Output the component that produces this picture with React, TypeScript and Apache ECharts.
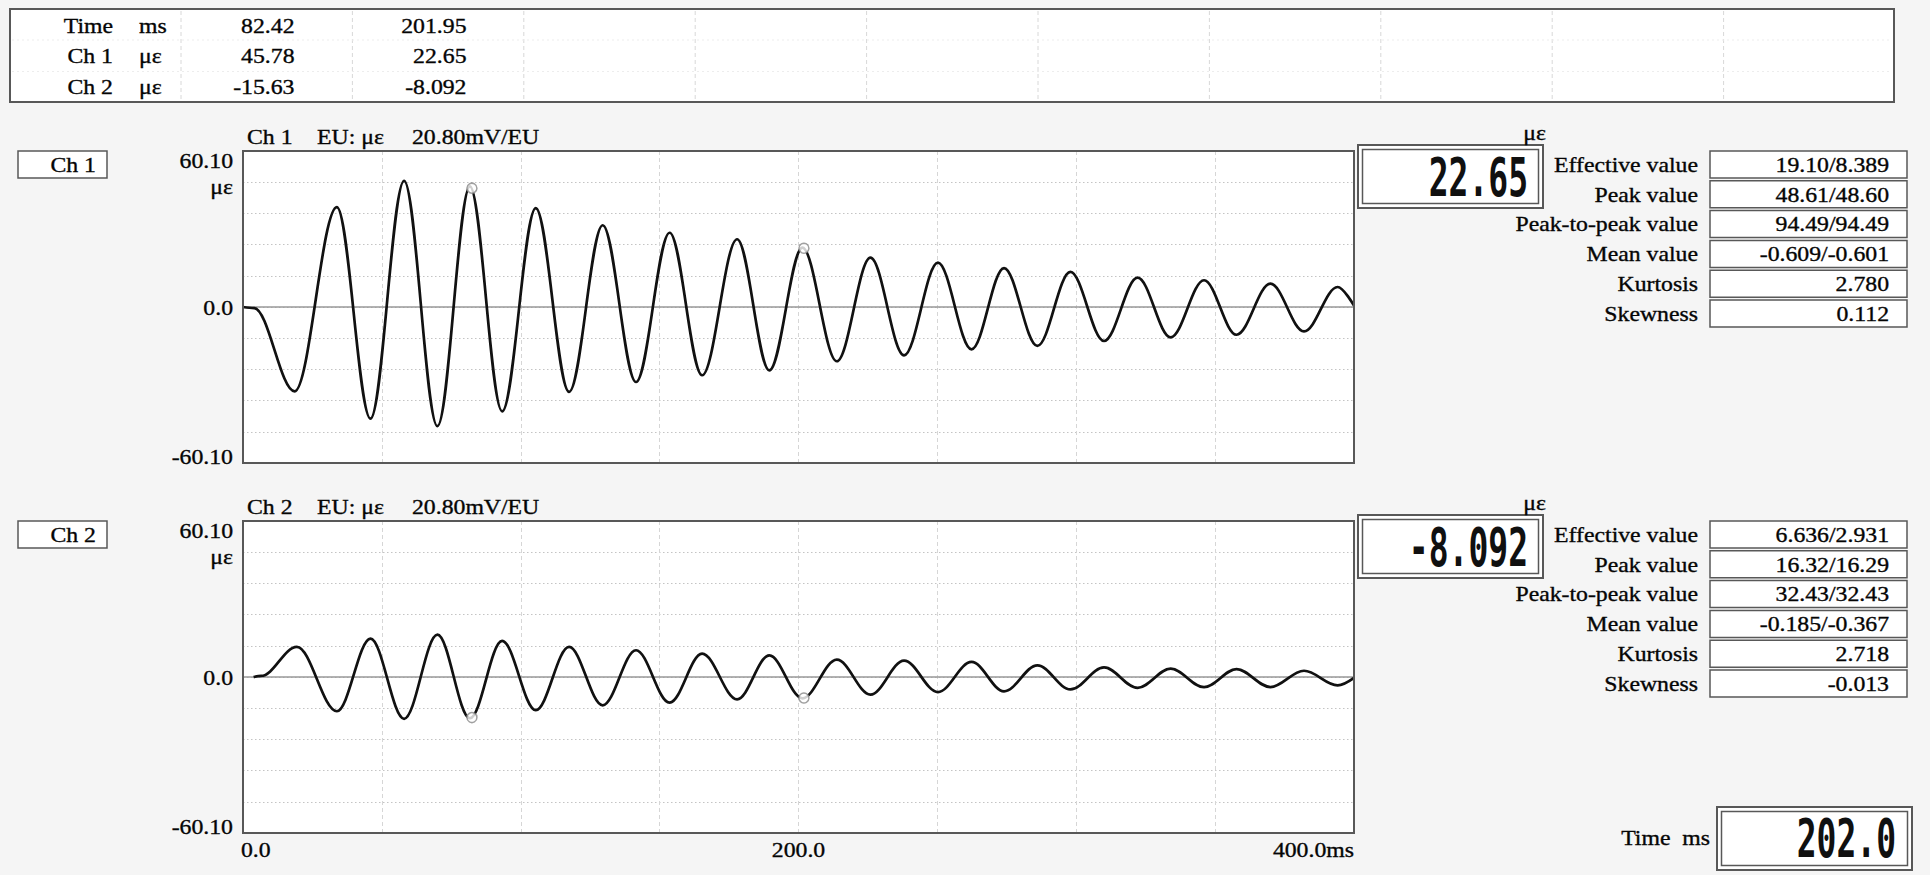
import React, { useEffect, useRef } from 'react';
import * as echarts from 'echarts';

const SERIF = "'Liberation Serif', 'Times New Roman', serif";
const MONO = "'DejaVu Sans Mono', monospace";

// ---------------- data ----------------
const timeMin = 0;
const timeMax = 400;
const timeStep = 50;
const strainMin = -60.1;
const strainMax = 60.1;
const strainStep = 12.02;

const ch1Time = [0, 4, 18.6, 33.8, 45.9, 58.0, 70.0, 81.7, 93.3, 105.4, 117.4, 129.5, 141.5, 153.6, 165.3, 177.9, 189.5, 201.4, 213.8, 225.9, 238.0, 250.2, 262.3, 274.0, 286.0, 297.9, 310.0, 322.1, 334.0, 346.0, 357.7, 369.9, 382.0, 394.1, 400];
const ch1Value = [0, -0.4, -32.5, 38.5, -43.0, 48.6, -45.9, 46.5, -40.2, 38.1, -32.7, 31.5, -28.9, 28.6, -26.3, 26.1, -24.4, 22.9, -20.9, 19.0, -18.6, 17.1, -16.3, 15.0, -15.0, 13.5, -13.1, 11.3, -11.7, 10.3, -10.7, 9.0, -9.4, 7.7, 0.5];

const ch2Time = [3.8, 6.5, 19.4, 33.8, 45.9, 58.0, 70.0, 81.7, 93.3, 105.4, 117.4, 129.5, 141.5, 153.6, 165.3, 177.9, 189.5, 201.4, 213.8, 225.9, 238.0, 250.2, 262.3, 274.0, 286.0, 297.9, 310.0, 322.1, 334.0, 346.0, 357.7, 369.9, 382.0, 394.1, 400];
const ch2Value = [0, 0.4, 11.6, -13.2, 14.8, -16.1, 16.3, -15.9, 13.9, -12.8, 11.6, -10.9, 10.3, -9.9, 9.0, -8.6, 8.3, -8.2, 6.7, -6.8, 6.3, -5.8, 5.8, -5.5, 4.5, -4.8, 3.7, -4.2, 3.2, -3.9, 3.0, -3.9, 2.4, -3.2, -0.3];

const zeroLineTime = [0, 400];
const cursorTime = [82.42, 201.95];
const ch1Cursor = [45.78, 22.65];
const ch2Cursor = [-15.63, -8.092];

const tableRowLabels = ['Time', 'Ch 1', 'Ch 2'];
const tableRowUnits = ['ms', 'με', 'με'];
const tableCursor1 = ['82.42', '45.78', '-15.63'];
const tableCursor2 = ['201.95', '22.65', '-8.092'];

const channelNames = ['Ch 1', 'Ch 2'];
const channelTitleEU = 'EU: με';
const channelTitleSens = '20.80mV/EU';
const channelReadings = ['22.65', '-8.092'];
const unitLabel = 'με';

const statLabels = ['Effective value', 'Peak value', 'Peak-to-peak value', 'Mean value', 'Kurtosis', 'Skewness'];
const ch1Stats = ['19.10/8.389', '48.61/48.60', '94.49/94.49', '-0.609/-0.601', '2.780', '0.112'];
const ch2Stats = ['6.636/2.931', '16.32/16.29', '32.43/32.43', '-0.185/-0.367', '2.718', '-0.013'];
const channelStats = [ch1Stats, ch2Stats];

const yTickValues = [60.1, 0, -60.1];
const yTickLabels = ['60.10', '0.0', '-60.10'];
const xTickValues = [0, 200, 400];
const xTickLabels = ['0.0', '200.0', '400.0ms'];
const timeReadingLabel = 'Time  ms';
const timeReading = '202.0';

// ---------------- layout ----------------
const W = 1930;
const H = 875;
const PLOT_LEFT = 243;
const PLOT_W = 1111;
const PLOT_H = 312;
const PLOT_TOPS = [151, 521];
const BORDER = '#585858';
const INK = '#050505';
const TEXT_SX = 1.08;

function pairs(t: number[], v: number[]) {
  return t.map((x, i) => [x, v[i]]);
}

function buildOption(): any {
  const grids = PLOT_TOPS.map((top) => ({
    left: PLOT_LEFT,
    top,
    width: PLOT_W,
    height: PLOT_H,
    show: true,
    backgroundColor: '#ffffff',
    borderWidth: 0,
  }));
  const xAxes = PLOT_TOPS.map((_, i) => ({
    type: 'value',
    gridIndex: i,
    min: timeMin,
    max: timeMax,
    interval: timeStep,
    axisLine: { show: false },
    axisTick: { show: false },
    axisLabel: { show: false },
    splitLine: { show: true, lineStyle: { color: '#d6d6d6', type: [4, 3], width: 1 } },
  }));
  const yAxes = PLOT_TOPS.map((_, i) => ({
    type: 'value',
    gridIndex: i,
    min: strainMin,
    max: strainMax,
    interval: strainStep,
    axisLine: { show: false },
    axisTick: { show: false },
    axisLabel: { show: false },
    splitLine: { show: true, lineStyle: { color: '#c4c4c4', type: [1.5, 2.5], width: 1.2 } },
  }));
  const waves = [pairs(ch1Time, ch1Value), pairs(ch2Time, ch2Value)];
  const cursors = [pairs(cursorTime, ch1Cursor), pairs(cursorTime, ch2Cursor)];
  const series: any[] = [];
  PLOT_TOPS.forEach((_, i) => {
    series.push({
      type: 'line',
      xAxisIndex: i,
      yAxisIndex: i,
      data: zeroLineTime.map((t) => [t, 0]),
      symbol: 'none',
      silent: true,
      z: 2,
      lineStyle: { color: '#989898', width: 1.5 },
    });
    series.push({
      type: 'line',
      name: channelNames[i],
      xAxisIndex: i,
      yAxisIndex: i,
      data: waves[i],
      symbol: 'none',
      showSymbol: false,
      smooth: 0.35,
      smoothMonotone: 'x',
      silent: true,
      z: 3,
      lineStyle: { color: '#111111', width: 2.7 },
    });
    series.push({
      type: 'scatter',
      xAxisIndex: i,
      yAxisIndex: i,
      data: cursors[i],
      symbol: 'circle',
      symbolSize: 10,
      silent: true,
      z: 4,
      itemStyle: { color: '#ffffff', borderColor: '#888888', borderWidth: 1.5 },
    });
  });
  return {
    animation: false,
    backgroundColor: '#f5f5f5',
    grid: grids,
    xAxis: xAxes,
    yAxis: yAxes,
    series,
  };
}

function txt(text: string, x: number, y: number, align: string, size = 22, extra: any = {}) {
  return {
    type: 'text',
    x,
    y,
    scaleX: TEXT_SX,
    silent: true,
    z: 60,
    style: {
      text,
      fill: INK,
      stroke: INK,
      lineWidth: 0.35,
      fontSize: size,
      fontFamily: SERIF,
      align,
      verticalAlign: 'middle',
    },
    ...extra,
  };
}

function digits(text: string, x: number, y: number) {
  return {
    type: 'text',
    x,
    y,
    scaleY: 1.62,
    silent: true,
    z: 60,
    style: {
      text,
      fill: '#101010',
      fontSize: 33,
      fontWeight: 'bold',
      fontFamily: MONO,
      align: 'right',
      verticalAlign: 'middle',
    },
  };
}

function rect(x: number, y: number, w: number, h: number, fill: string, stroke: string, lw: number, z = 50) {
  return {
    type: 'rect',
    silent: true,
    z,
    shape: { x, y, width: w, height: h },
    style: { fill, stroke, lineWidth: lw },
  };
}

function line(x1: number, y1: number, x2: number, y2: number, stroke: string, lw: number, dash?: number[]) {
  return {
    type: 'line',
    silent: true,
    z: 45,
    shape: { x1, y1, x2, y2 },
    style: { stroke, lineWidth: lw, lineDash: dash },
  };
}

function buildGraphic(chart: any): any[] {
  const g: any[] = [];

  // ---- top cursor table ----
  const tX = 10, tY = 9, tW = 1884, tH = 93;
  g.push(rect(tX, tY, tW, tH, '#ffffff', BORDER, 2, 40));
  for (let k = 0; k < 10; k++) {
    const x = 181 + 171.4 * k;
    g.push(line(x, tY + 2, x, tY + tH - 2, '#d8d8d8', 1, [4, 3]));
  }
  [40, 71.5].forEach((y) => g.push(line(tX + 2, y, tX + tW - 2, y, '#ededed', 1, [2, 3])));
  const rowY = [25.5, 56, 86.5];
  tableRowLabels.forEach((lab, r) => {
    g.push(txt(lab, 113, rowY[r], 'right'));
    g.push(txt(tableRowUnits[r], 139, rowY[r], 'left'));
    g.push(txt(tableCursor1[r], 294.5, rowY[r], 'right'));
    g.push(txt(tableCursor2[r], 466.5, rowY[r], 'right'));
  });

  // ---- channel panels ----
  PLOT_TOPS.forEach((_, i) => {
    const [xl, yTop] = chart.convertToPixel({ gridIndex: i }, [timeMin, strainMax]);
    const [xr, yBot] = chart.convertToPixel({ gridIndex: i }, [timeMax, strainMin]);
    const dy = yTop - 151;

    g.push(rect(xl, yTop, xr - xl, yBot - yTop, 'none', BORDER, 2, 55));

    g.push(rect(18, yTop, 89, 27, '#ffffff', BORDER, 1.5));
    g.push(txt(channelNames[i], 96, yTop + 13.5, 'right'));

    g.push(txt(channelNames[i], 247, yTop - 14.5, 'left'));
    g.push(txt(channelTitleEU, 317, yTop - 14.5, 'left'));
    g.push(txt(channelTitleSens, 412, yTop - 14.5, 'left'));

    yTickValues.forEach((v, k) => {
      const [, py] = chart.convertToPixel({ gridIndex: i }, [timeMin, v]);
      let y = py;
      if (k === 0) y = py + 9.5;
      if (k === 1) y = py + 1;
      if (k === 2) y = py - 6;
      g.push(txt(yTickLabels[k], xl - 10, y, 'right'));
    });
    g.push(txt(unitLabel, xl - 10, yTop + 36, 'right'));

    if (i === PLOT_TOPS.length - 1) {
      xTickValues.forEach((t, k) => {
        const [px] = chart.convertToPixel({ gridIndex: i }, [t, 0]);
        const align = k === 0 ? 'left' : k === xTickValues.length - 1 ? 'right' : 'center';
        const x = k === 0 ? px - 2 : px;
        g.push(txt(xTickLabels[k], x, yBot + 17, align));
      });
    }

    g.push(txt(unitLabel, 1546, 133 + dy, 'right'));
    g.push(rect(1358, 145 + dy, 185, 63, '#ffffff', BORDER, 2));
    g.push(rect(1362.5, 149.5 + dy, 176, 54, 'none', BORDER, 1.5, 51));
    g.push(digits(channelReadings[i], 1528, 177 + dy));

    statLabels.forEach((lab, k) => {
      const cy = 164.5 + 29.8 * k + dy;
      g.push(txt(lab, 1698, cy, 'right'));
      g.push(rect(1710, cy - 13.5, 197, 27, '#ffffff', BORDER, 1.5));
      g.push(txt(channelStats[i][k], 1889, cy, 'right'));
    });
  });

  g.push(txt(timeReadingLabel, 1710, 838, 'right'));
  g.push(rect(1717, 807, 195, 63, '#ffffff', BORDER, 2));
  g.push(rect(1721.5, 811.5, 186, 54, 'none', BORDER, 1.5, 51));
  g.push(digits(timeReading, 1896, 838));

  return g;
}

export default function App() {
  const ref = useRef<HTMLDivElement>(null);
  useEffect(() => {
    if (!ref.current) return;
    const chart = echarts.init(ref.current, undefined, { renderer: 'svg', width: W, height: H });
    chart.setOption(buildOption());
    chart.setOption({ graphic: buildGraphic(chart) });
    return () => chart.dispose();
  }, []);
  return (
    <div
      ref={ref}
      style={{ position: 'absolute', left: 0, top: 0, width: W, height: H, background: '#f5f5f5' }}
    />
  );
}
